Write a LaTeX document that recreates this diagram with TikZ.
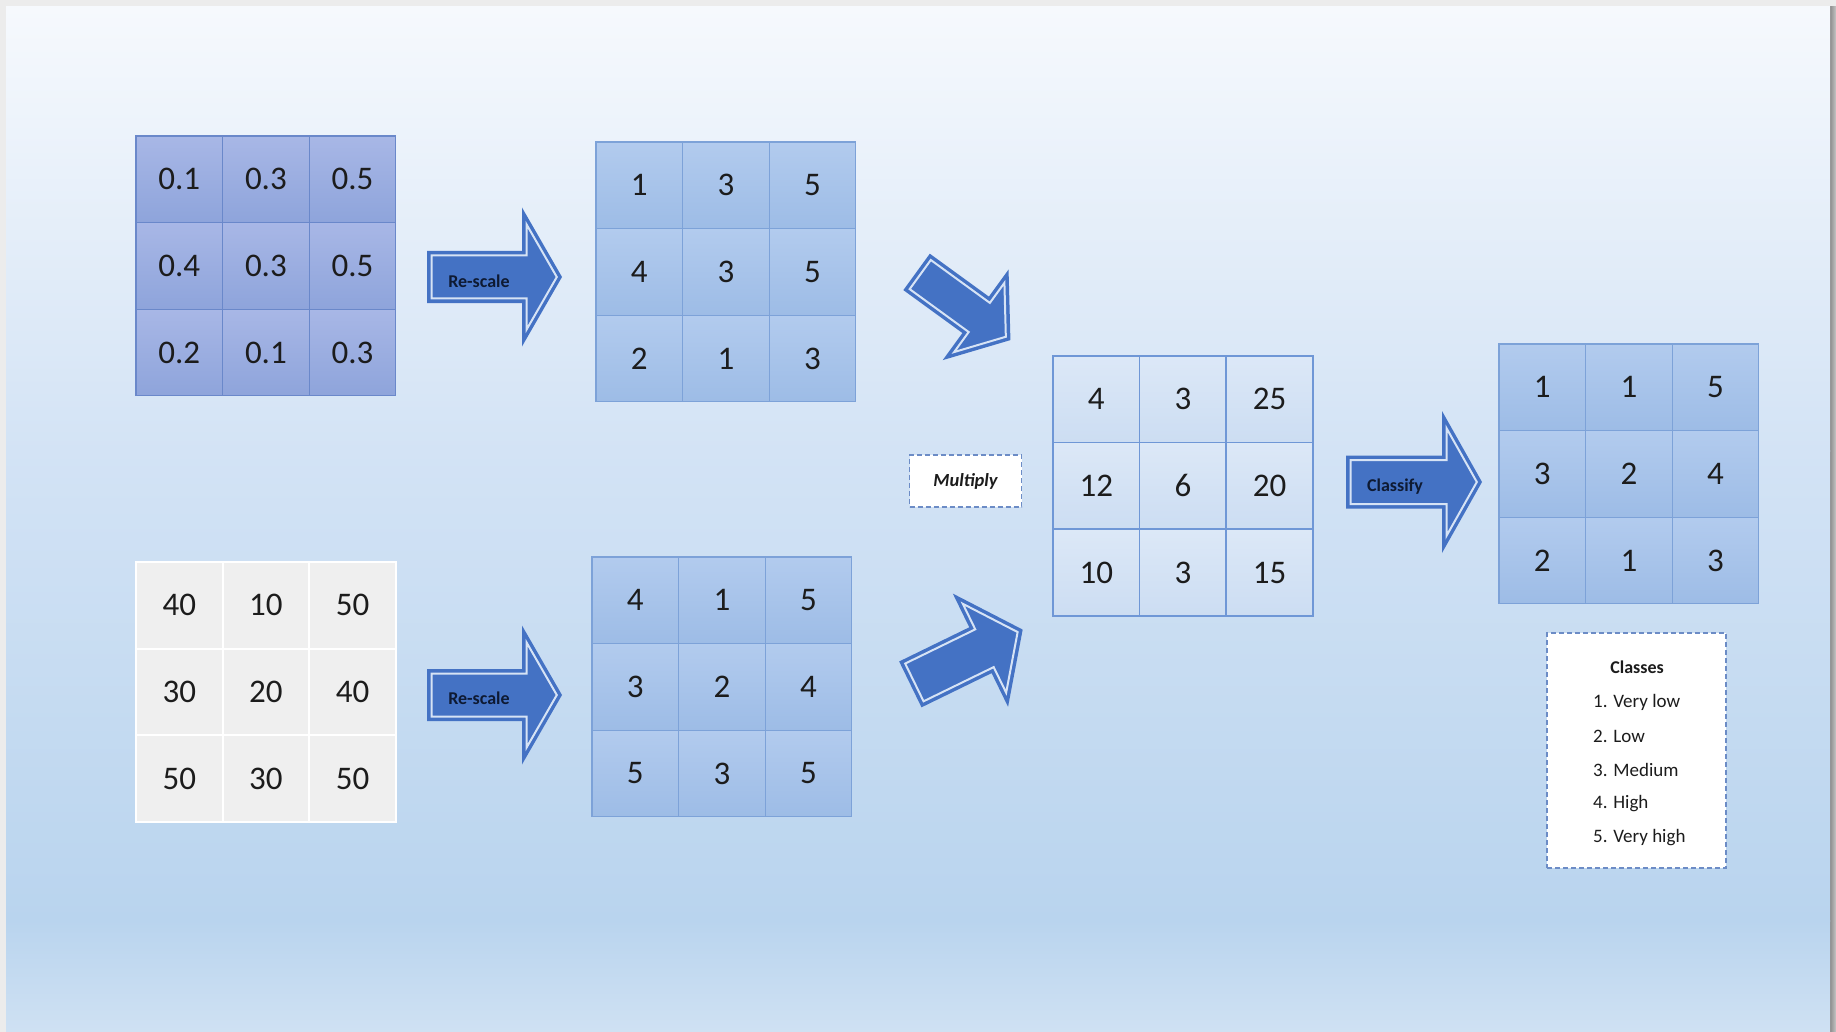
\documentclass[tikz,border=0pt]{standalone}
\usepackage{fontspec}
\setmainfont{Carlito}
\definecolor{pagegray}{HTML}{ECECEC}
\definecolor{bgA}{HTML}{F6F9FD}
\definecolor{bgB}{HTML}{D3E3F5}
\definecolor{bgC}{HTML}{B9D4EE}
\definecolor{bgD}{HTML}{CFE1F3}
\definecolor{arrowblue}{HTML}{4472C4}
\definecolor{arrowlight}{HTML}{D6E3F5}
\definecolor{txt}{HTML}{1C1C1C}
\definecolor{lbltxt}{HTML}{0E1A33}
\definecolor{aTop}{HTML}{A8B7E6}
\definecolor{aBot}{HTML}{8EA4DB}
\definecolor{aLine}{HTML}{6A88CA}
\definecolor{bTop}{HTML}{B2CBEE}
\definecolor{bBot}{HTML}{9DBCE6}
\definecolor{bLine}{HTML}{7DA2D8}
\definecolor{cFill}{HTML}{EFEFEF}
\definecolor{eTop}{HTML}{DCE8F7}
\definecolor{eBot}{HTML}{CCDDF2}
\definecolor{eLine}{HTML}{6F97D6}
\definecolor{boxLine}{HTML}{6C8CC6}
\newcommand\gridfont{\fontsize{33}{39}\selectfont}
\newcommand\smallfont{\fontsize{19}{22}\selectfont}
\tikzset{
  cellbase/.style={inner sep=0pt, outer sep=0pt, minimum size=86.6pt, text=txt, font=\gridfont, line width=1.2pt},
  cellA/.style={cellbase, draw=aLine, top color=aTop, bottom color=aBot},
  cellB/.style={cellbase, draw=bLine, top color=bTop, bottom color=bBot},
  cellC/.style={cellbase, draw=white, line width=2pt, fill=cFill},
  cellE/.style={cellbase, draw=eLine, line width=1.5pt, top color=eTop, bottom color=eBot},
  arrowline/.style={draw=arrowlight, line width=2pt, line join=miter},
  arrowlbl/.style={font=\fontsize{18}{21}\selectfont\bfseries, text=lbltxt, inner sep=0pt},
  dashbox/.style={draw=boxLine, fill=white, line width=1.2pt, dash pattern=on 5pt off 3pt},
  classtxt/.style={font=\smallfont, text=txt, inner sep=0pt, anchor=west}
}
% grid: #1 name, #2 left x, #3 top y, #4 cell style, #5 values
\newcommand\mgrid[5]{%
  \foreach \v [count=\k from 0] in {#5} {
    \pgfmathtruncatemacro\gr{\k/3}
    \pgfmathtruncatemacro\gc{\k-3*\gr}
    \node[#4] (#1-\gr-\gc) at ({#2+43.3+86.6*\gc},{#3+43.3+86.6*\gr}) {\v};
  }%
}
% block arrow: #1 name, #2 cx, #3 cy, #4 angle, #5 length, #6 shaft width, #7 head width, #8 head length
\newcommand\blockarrow[8]{%
  \begin{scope}[shift={(#2,#3)}, rotate=#4]
    \pgfmathsetmacro\bkL{#5/2}
    \pgfmathsetmacro\bks{#6/2}
    \pgfmathsetmacro\bkw{#7/2}
    \pgfmathsetmacro\bkh{#8}
    \pgfmathsetmacro\bkd{4.5}
    \pgfmathsetmacro\bkr{sqrt(\bkw*\bkw+\bkh*\bkh)}
    \pgfmathsetmacro\bktip{\bkL-\bkd*\bkr/\bkw}
    \pgfmathsetmacro\bkhy{\bkw-\bkd*(\bkr+\bkw)/\bkh}
    \fill[arrowblue] (-\bkL,-\bks) -- (\bkL-\bkh,-\bks) -- (\bkL-\bkh,-\bkw) -- (\bkL,0)
      -- (\bkL-\bkh,\bkw) -- (\bkL-\bkh,\bks) -- (-\bkL,\bks) -- cycle;
    \draw[arrowline] (-\bkL+\bkd,-\bks+\bkd) -- (\bkL-\bkh+\bkd,-\bks+\bkd) -- (\bkL-\bkh+\bkd,-\bkhy)
      -- (\bktip,0) -- (\bkL-\bkh+\bkd,\bkhy) -- (\bkL-\bkh+\bkd,\bks-\bkd) -- (-\bkL+\bkd,\bks-\bkd) -- cycle;
    \coordinate (#1) at (0,0);
  \end{scope}%
}
\begin{document}
\begin{tikzpicture}[x=1pt, y=-1pt]
\useasboundingbox (0,0) rectangle (1836,1032);
% background
\fill[pagegray] (0,0) rectangle (1836,1032);
\shade[left color=black!45, right color=black!22] (1830,7) rectangle (1836,1032);
\shade[top color=bgA, bottom color=bgB] (6,7) rectangle (1830,451);
\shade[top color=bgB, bottom color=bgC] (6,450) rectangle (1830,921);
\shade[top color=bgC, bottom color=bgD] (6,920) rectangle (1830,1032);

% grids
\mgrid{gA}{136}{136}{cellA}{0.1,0.3,0.5,0.4,0.3,0.5,0.2,0.1,0.3}
\mgrid{gB}{596}{142}{cellB}{1,3,5,4,3,5,2,1,3}
\mgrid{gC}{136}{562}{cellC}{40,10,50,30,20,40,50,30,50}
\mgrid{gD}{592}{557}{cellB}{4,1,5,3,2,4,5,3,5}
\mgrid{gE}{1053}{356}{cellE}{4,3,25,12,6,20,10,3,15}
\mgrid{gF}{1499}{344}{cellB}{1,1,5,3,2,4,2,1,3}

% arrows
\blockarrow{rs1}{494.5}{277}{0}{135}{52}{139}{40}
\blockarrow{rs2}{494.5}{695}{0}{135}{52}{139}{40}
\blockarrow{cls}{1414}{482}{0}{136}{53}{142}{40}
\blockarrow{dg1}{963.5}{306}{-36}{116}{45}{112}{43}
\blockarrow{dg2}{966.5}{657}{26}{125}{51}{126}{47}
\node[arrowlbl] (lrs1) at (479,281) {Re-scale};
\node[arrowlbl] (lrs2) at (479,698) {Re-scale};
\node[arrowlbl] (lcls) at (1395,487) {Classify};

% multiply box
\node[dashbox, minimum width=112pt, minimum height=52pt, inner sep=0pt,
      font=\fontsize{18.5}{21}\selectfont\bfseries\itshape, text=txt] (mult) at (965.5,481) {Multiply};

% classes box
\node[dashbox, minimum width=179pt, minimum height=235pt] (classes) at (1636.5,750.5) {};
\node[font=\fontsize{18}{21}\selectfont\bfseries, text=txt, inner sep=0pt] (cl0) at (1637,667) {Classes};
\node[classtxt] (cl1) at (1593,702) {1. Very low};
\node[classtxt] (cl2) at (1593,736) {2. Low};
\node[classtxt] (cl3) at (1593,770) {3. Medium};
\node[classtxt] (cl4) at (1593,804) {4. High};
\node[classtxt] (cl5) at (1593,838) {5. Very high};
\end{tikzpicture}
\end{document}
